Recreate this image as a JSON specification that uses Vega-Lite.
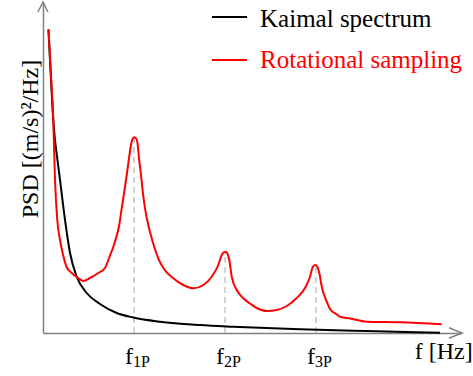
{
  "$schema": "https://vega.github.io/schema/vega-lite/v6.json",
  "width": 419,
  "height": 331,
  "autosize": "none",
  "padding": {"left": 43, "top": 2, "right": 11, "bottom": 43},
  "background": "white",
  "config": {
    "view": {"stroke": null},
    "font": "'Liberation Serif', 'Times New Roman', serif",
    "axis": {"grid": false, "ticks": false, "labels": false, "domainColor": "#808080", "domainWidth": 1.5}
  },
  "datasets": {
    "curves": [
      {"series": "Kaimal spectrum", "f": 0.060, "psd": 303},
      {"series": "Kaimal spectrum", "f": 0.088, "psd": 253},
      {"series": "Kaimal spectrum", "f": 0.113, "psd": 213},
      {"series": "Kaimal spectrum", "f": 0.132, "psd": 193},
      {"series": "Kaimal spectrum", "f": 0.159, "psd": 173},
      {"series": "Kaimal spectrum", "f": 0.187, "psd": 153},
      {"series": "Kaimal spectrum", "f": 0.242, "psd": 113},
      {"series": "Kaimal spectrum", "f": 0.297, "psd": 80},
      {"series": "Kaimal spectrum", "f": 0.370, "psd": 56.3},
      {"series": "Kaimal spectrum", "f": 0.480, "psd": 40},
      {"series": "Kaimal spectrum", "f": 0.626, "psd": 29},
      {"series": "Kaimal spectrum", "f": 0.810, "psd": 20},
      {"series": "Kaimal spectrum", "f": 0.992, "psd": 15.5},
      {"series": "Kaimal spectrum", "f": 1.286, "psd": 11.3},
      {"series": "Kaimal spectrum", "f": 1.725, "psd": 8},
      {"series": "Kaimal spectrum", "f": 2.088, "psd": 6.3},
      {"series": "Kaimal spectrum", "f": 2.824, "psd": 3.7},
      {"series": "Kaimal spectrum", "f": 3.557, "psd": 2},
      {"series": "Kaimal spectrum", "f": 4.363, "psd": 0.3},
      {"series": "Rotational sampling", "f": 0.060, "psd": 304},
      {"series": "Rotational sampling", "f": 0.088, "psd": 258},
      {"series": "Rotational sampling", "f": 0.113, "psd": 213},
      {"series": "Rotational sampling", "f": 0.132, "psd": 153},
      {"series": "Rotational sampling", "f": 0.157, "psd": 113},
      {"series": "Rotational sampling", "f": 0.187, "psd": 93},
      {"series": "Rotational sampling", "f": 0.216, "psd": 80},
      {"series": "Rotational sampling", "f": 0.260, "psd": 66},
      {"series": "Rotational sampling", "f": 0.315, "psd": 60},
      {"series": "Rotational sampling", "f": 0.388, "psd": 55},
      {"series": "Rotational sampling", "f": 0.443, "psd": 52},
      {"series": "Rotational sampling", "f": 0.516, "psd": 55},
      {"series": "Rotational sampling", "f": 0.608, "psd": 60},
      {"series": "Rotational sampling", "f": 0.681, "psd": 65},
      {"series": "Rotational sampling", "f": 0.725, "psd": 74.7},
      {"series": "Rotational sampling", "f": 0.791, "psd": 91.3},
      {"series": "Rotational sampling", "f": 0.838, "psd": 108},
      {"series": "Rotational sampling", "f": 0.865, "psd": 124.7},
      {"series": "Rotational sampling", "f": 0.893, "psd": 141.3},
      {"series": "Rotational sampling", "f": 0.920, "psd": 158},
      {"series": "Rotational sampling", "f": 0.945, "psd": 174.7},
      {"series": "Rotational sampling", "f": 0.967, "psd": 188},
      {"series": "Rotational sampling", "f": 0.984, "psd": 194},
      {"series": "Rotational sampling", "f": 1.003, "psd": 195.7},
      {"series": "Rotational sampling", "f": 1.024, "psd": 194.5},
      {"series": "Rotational sampling", "f": 1.041, "psd": 188},
      {"series": "Rotational sampling", "f": 1.055, "psd": 174.7},
      {"series": "Rotational sampling", "f": 1.077, "psd": 158},
      {"series": "Rotational sampling", "f": 1.096, "psd": 141.3},
      {"series": "Rotational sampling", "f": 1.121, "psd": 124.7},
      {"series": "Rotational sampling", "f": 1.157, "psd": 108},
      {"series": "Rotational sampling", "f": 1.205, "psd": 91.3},
      {"series": "Rotational sampling", "f": 1.267, "psd": 74.7},
      {"series": "Rotational sampling", "f": 1.322, "psd": 65},
      {"series": "Rotational sampling", "f": 1.432, "psd": 54.7},
      {"series": "Rotational sampling", "f": 1.542, "psd": 48},
      {"series": "Rotational sampling", "f": 1.652, "psd": 44.7},
      {"series": "Rotational sampling", "f": 1.762, "psd": 48},
      {"series": "Rotational sampling", "f": 1.854, "psd": 56.3},
      {"series": "Rotational sampling", "f": 1.926, "psd": 68},
      {"series": "Rotational sampling", "f": 1.964, "psd": 78},
      {"series": "Rotational sampling", "f": 1.989, "psd": 80.7},
      {"series": "Rotational sampling", "f": 2.011, "psd": 81},
      {"series": "Rotational sampling", "f": 2.025, "psd": 79.7},
      {"series": "Rotational sampling", "f": 2.047, "psd": 73},
      {"series": "Rotational sampling", "f": 2.074, "psd": 56.3},
      {"series": "Rotational sampling", "f": 2.129, "psd": 43},
      {"series": "Rotational sampling", "f": 2.201, "psd": 34.7},
      {"series": "Rotational sampling", "f": 2.275, "psd": 29.5},
      {"series": "Rotational sampling", "f": 2.348, "psd": 25},
      {"series": "Rotational sampling", "f": 2.458, "psd": 22},
      {"series": "Rotational sampling", "f": 2.568, "psd": 23},
      {"series": "Rotational sampling", "f": 2.678, "psd": 27},
      {"series": "Rotational sampling", "f": 2.788, "psd": 35},
      {"series": "Rotational sampling", "f": 2.879, "psd": 45},
      {"series": "Rotational sampling", "f": 2.934, "psd": 56.3},
      {"series": "Rotational sampling", "f": 2.964, "psd": 66},
      {"series": "Rotational sampling", "f": 2.989, "psd": 68},
      {"series": "Rotational sampling", "f": 3.014, "psd": 66.3},
      {"series": "Rotational sampling", "f": 3.036, "psd": 60},
      {"series": "Rotational sampling", "f": 3.063, "psd": 46.3},
      {"series": "Rotational sampling", "f": 3.118, "psd": 31.3},
      {"series": "Rotational sampling", "f": 3.154, "psd": 24},
      {"series": "Rotational sampling", "f": 3.220, "psd": 19},
      {"series": "Rotational sampling", "f": 3.264, "psd": 16.3},
      {"series": "Rotational sampling", "f": 3.374, "psd": 14.5},
      {"series": "Rotational sampling", "f": 3.557, "psd": 11.3},
      {"series": "Rotational sampling", "f": 3.923, "psd": 10.7},
      {"series": "Rotational sampling", "f": 4.381, "psd": 8.7}
    ],
    "harmonicLines": [
      {"f": 1, "psd": 0}, {"f": 1, "psd": 195.7},
      {"f": 2, "psd": 0}, {"f": 2, "psd": 81},
      {"f": 3, "psd": 0}, {"f": 3, "psd": 68}
    ],
    "harmonics": [
      {"f": 1, "sub": "1P"},
      {"f": 2, "sub": "2P"},
      {"f": 3, "sub": "3P"}
    ],
    "keyLines": [
      {"series": "Kaimal spectrum", "f": 1.857, "psd": 316},
      {"series": "Kaimal spectrum", "f": 2.242, "psd": 316},
      {"series": "Rotational sampling", "f": 1.857, "psd": 273},
      {"series": "Rotational sampling", "f": 2.242, "psd": 273}
    ],
    "keyLabels": [
      {"series": "Kaimal spectrum", "f": 2.385, "psd": 306},
      {"series": "Rotational sampling", "f": 2.385, "psd": 265}
    ],
    "axisLabel": [{"f": 4.085, "psd": -26, "label": "f [Hz]"}],
    "arrowY": [{"f": 0, "psd": 331}],
    "arrowX": [{"f": 4.604, "psd": 0}]
  },
  "layer": [
    {
      "data": {"name": "harmonicLines"},
      "mark": {"type": "line", "color": "#a6a6a6", "strokeWidth": 1, "strokeDash": [6, 4]},
      "encoding": {
        "x": {"field": "f", "type": "quantitative", "scale": {"domain": [0, 4.604], "nice": false, "zero": false}, "axis": {"title": null}},
        "y": {"field": "psd", "type": "quantitative", "scale": {"domain": [0, 331], "nice": false, "zero": false},
          "axis": {
            "title": "PSD [(m/s)²/Hz]",
            "titleFont": "'Liberation Serif', 'Times New Roman', serif",
            "titleFontSize": 24,
            "titleFontWeight": "normal",
            "titleColor": "black",
            "titleAngle": -90,
            "titleAlign": "center",
            "titleBaseline": "alphabetic",
            "titleX": -6,
            "titleY": 136.5
          }
        },
        "detail": {"field": "f", "type": "nominal"}
      }
    },
    {
      "data": {"name": "curves"},
      "mark": {"type": "line", "strokeWidth": 2, "interpolate": "monotone"},
      "encoding": {
        "x": {"field": "f", "type": "quantitative"},
        "y": {"field": "psd", "type": "quantitative"},
        "color": {"field": "series", "type": "nominal",
          "scale": {"domain": ["Kaimal spectrum", "Rotational sampling"], "range": ["black", "red"]},
          "legend": null}
      }
    },
    {
      "data": {"name": "keyLines"},
      "mark": {"type": "line", "strokeWidth": 2},
      "encoding": {
        "x": {"field": "f", "type": "quantitative"},
        "y": {"field": "psd", "type": "quantitative"},
        "color": {"field": "series", "type": "nominal", "legend": null}
      }
    },
    {
      "data": {"name": "keyLabels"},
      "mark": {"type": "text", "align": "left", "baseline": "alphabetic", "font": "'Liberation Serif', 'Times New Roman', serif", "fontSize": 25},
      "encoding": {
        "x": {"field": "f", "type": "quantitative"},
        "y": {"field": "psd", "type": "quantitative"},
        "text": {"field": "series", "type": "nominal"},
        "color": {"field": "series", "type": "nominal", "legend": null}
      }
    },
    {
      "data": {"name": "harmonics"},
      "mark": {"type": "text", "align": "right", "baseline": "alphabetic", "font": "'Liberation Serif', 'Times New Roman', serif", "fontSize": 24, "color": "black", "dx": -1, "dy": 31},
      "encoding": {
        "x": {"field": "f", "type": "quantitative"},
        "y": {"value": 331},
        "text": {"value": "f"}
      }
    },
    {
      "data": {"name": "harmonics"},
      "mark": {"type": "text", "align": "left", "baseline": "alphabetic", "font": "'Liberation Serif', 'Times New Roman', serif", "fontSize": 16, "color": "black", "dx": -1, "dy": 34},
      "encoding": {
        "x": {"field": "f", "type": "quantitative"},
        "y": {"value": 331},
        "text": {"field": "sub", "type": "nominal"}
      }
    },
    {
      "data": {"name": "axisLabel"},
      "mark": {"type": "text", "align": "left", "baseline": "alphabetic", "font": "'Liberation Serif', 'Times New Roman', serif", "fontSize": 24, "color": "black"},
      "encoding": {
        "x": {"field": "f", "type": "quantitative"},
        "y": {"field": "psd", "type": "quantitative"},
        "text": {"field": "label", "type": "nominal"}
      }
    },
    {
      "data": {"name": "arrowY"},
      "mark": {"type": "point", "shape": "M-0.5,1L0,0L0.5,1", "size": 400, "filled": false, "stroke": "#808080", "strokeWidth": 1.5, "opacity": 1},
      "encoding": {
        "x": {"field": "f", "type": "quantitative"},
        "y": {"field": "psd", "type": "quantitative"}
      }
    },
    {
      "data": {"name": "arrowX"},
      "mark": {"type": "point", "shape": "M-1,-0.4L0,0L-1,0.4", "size": 676, "filled": false, "stroke": "#808080", "strokeWidth": 1.5, "opacity": 1},
      "encoding": {
        "x": {"field": "f", "type": "quantitative"},
        "y": {"field": "psd", "type": "quantitative"}
      }
    }
  ]
}
